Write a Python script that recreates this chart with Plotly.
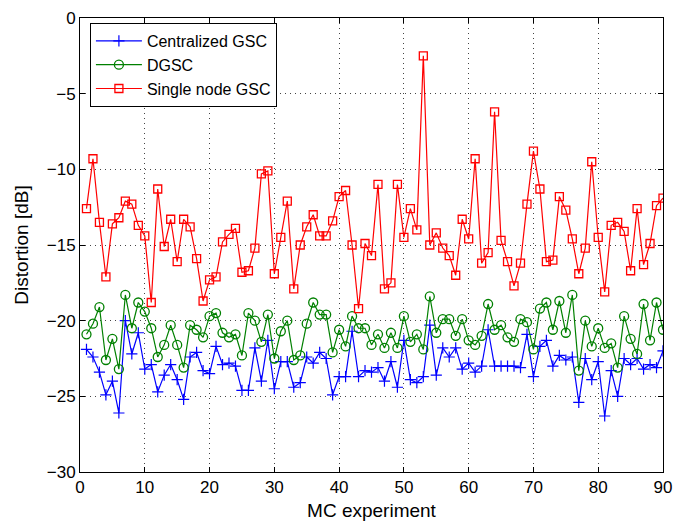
import plotly.graph_objects as go

experiments = list(range(1, 91))

centralized_gsc = [
    -21.9, -22.4, -23.4, -24.9, -24.0, -26.1, -20.0, -22.2, -20.8, -23.2,
    -22.9, -24.7, -23.6, -22.9, -23.9, -25.2, -22.4, -22.1, -23.3, -23.5,
    -21.7, -22.9, -22.8, -23.0, -24.6, -24.6, -21.8, -24.0, -21.3, -24.5,
    -22.7, -22.7, -24.4, -24.1, -22.4, -22.8, -22.1, -22.5, -24.9, -23.7,
    -23.7, -20.7, -23.7, -23.3, -23.4, -23.1, -24.0, -22.7, -24.4, -21.3,
    -23.9, -24.1, -23.7, -20.3, -23.6, -21.8, -22.4, -21.8, -23.2, -22.8,
    -23.4, -23.0, -20.6, -23.0, -23.0, -23.0, -23.0, -23.1, -20.9, -23.7,
    -21.7, -21.3, -23.0, -22.3, -22.6, -22.4, -25.4, -22.5, -23.9, -22.7,
    -26.3, -23.3, -25.0, -22.5, -22.9, -22.5, -23.2, -22.9, -23.1, -22.0,
]

dgsc = [
    -20.9, -20.2, -19.1, -22.6, -21.2, -23.2, -18.3, -20.5, -18.8, -19.4,
    -20.5, -22.4, -21.6, -20.3, -21.6, -23.1, -20.3, -20.6, -21.1, -19.7,
    -19.5, -20.8, -21.1, -20.9, -22.3, -19.5, -20.0, -21.4, -19.6, -22.5,
    -20.7, -20.0, -22.6, -22.3, -20.2, -18.8, -19.6, -19.6, -22.1, -20.6,
    -21.7, -19.7, -20.5, -20.5, -21.6, -20.9, -21.8, -20.8, -21.8, -19.7,
    -21.4, -20.9, -21.9, -18.4, -20.8, -19.9, -19.9, -21.0, -19.9, -21.3,
    -21.6, -21.0, -18.9, -20.6, -20.3, -21.1, -21.4, -19.9, -20.1, -21.9,
    -19.2, -18.8, -20.6, -18.7, -20.8, -18.3, -23.3, -20.0, -21.7, -20.5,
    -21.8, -21.5, -23.1, -19.7, -21.2, -22.2, -18.9, -21.3, -18.8, -20.6,
]

single_node_gsc = [
    -12.6, -9.3, -13.5, -17.1, -13.6, -13.2, -12.1, -12.3, -13.7, -14.4,
    -18.8, -11.3, -15.1, -13.3, -16.1, -13.3, -13.8, -15.9, -18.7, -17.3,
    -17.1, -14.8, -14.3, -13.9, -16.8, -16.7, -15.2, -10.3, -10.1, -16.9,
    -14.5, -12.1, -17.9, -15.0, -13.8, -13.0, -14.4, -14.4, -13.4, -11.8,
    -11.4, -15.0, -19.2, -14.9, -15.7, -11.0, -17.9, -17.5, -11.0, -14.5,
    -12.6, -14.0, -2.5, -15.0, -14.2, -15.2, -15.7, -17.0, -13.3, -14.6,
    -9.3, -16.2, -15.5, -6.2, -14.7, -16.1, -17.7, -16.2, -12.3, -8.8,
    -11.3, -16.1, -16.0, -11.8, -12.7, -14.6, -16.9, -15.2, -9.5, -14.5,
    -18.1, -13.7, -13.5, -14.1, -16.7, -12.6, -16.3, -14.9, -12.4, -11.9,
]

x_ticks = [0, 10, 20, 30, 40, 50, 60, 70, 80, 90]
y_ticks = [0, -5, -10, -15, -20, -25, -30]

fig = go.Figure()
fig.add_trace(go.Scatter(
    x=experiments, y=centralized_gsc, mode="lines+markers", name="Centralized GSC",
    line=dict(color="#0000ff", width=1.2),
    marker=dict(symbol="cross-thin-open", size=8, line=dict(color="#0000ff", width=1.2)),
))
fig.add_trace(go.Scatter(
    x=experiments, y=dgsc, mode="lines+markers", name="DGSC",
    line=dict(color="#008000", width=1.2),
    marker=dict(symbol="circle-open", size=9, color="#008000", line=dict(color="#008000", width=1.3)),
))
fig.add_trace(go.Scatter(
    x=experiments, y=single_node_gsc, mode="lines+markers", name="Single node GSC",
    line=dict(color="#ff0000", width=1.2),
    marker=dict(symbol="square-open", size=8, color="#ff0000", line=dict(color="#ff0000", width=1.3)),
))

axis_common = dict(
    showgrid=True, gridcolor="#444444", griddash="1px,4px", gridwidth=1,
    zeroline=False, showline=True, linecolor="black", linewidth=1, mirror="ticks",
    ticks="inside", ticklen=5, tickcolor="black", automargin=False,
    ticklabeloverflow="allow",
    tickfont=dict(family="Liberation Sans, Arial, sans-serif", size=17, color="black"),
)

fig.update_layout(
    width=677, height=515,
    margin=dict(l=72, r=22, t=10, b=51),
    paper_bgcolor="white", plot_bgcolor="white",
    font=dict(family="Liberation Sans, Arial, sans-serif", color="black"),
    showlegend=True,
    legend=dict(
        x=0.017, y=0.989, xanchor="left", yanchor="top",
        bgcolor="white", bordercolor="black", borderwidth=1,
        font=dict(size=16, color="black"), tracegroupgap=0,
        itemwidth=46,
    ),
    xaxis=dict(range=[0, 90], tickvals=x_ticks, title=dict(text="MC experiment", font=dict(size=19), standoff=7), **axis_common),
    yaxis=dict(range=[-30, 0], tickvals=y_ticks, title=dict(text="Distortion [dB]", font=dict(size=19), standoff=13), **axis_common),
)

fig.write_html("out.html")
